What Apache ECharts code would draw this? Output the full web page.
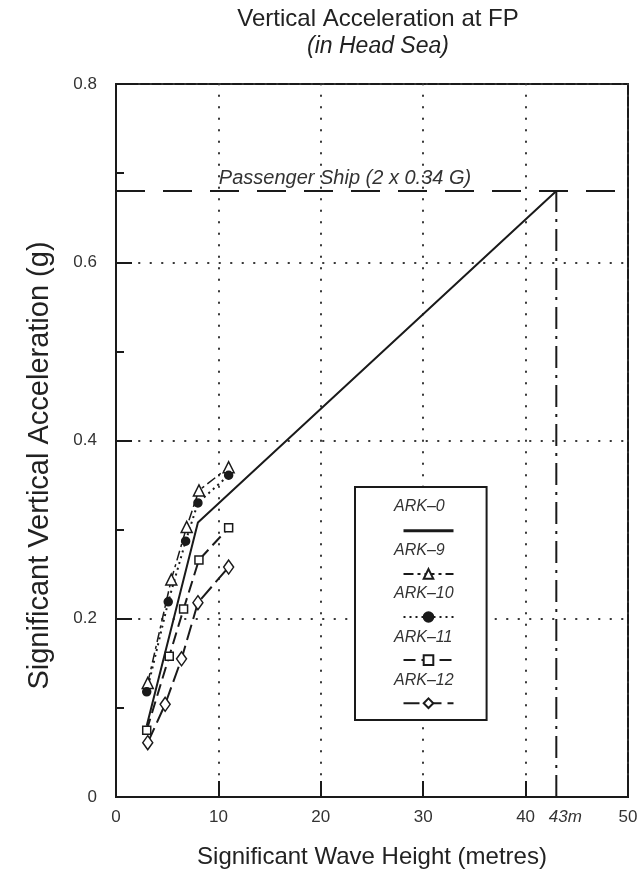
<!DOCTYPE html>
<html><head><meta charset="utf-8">
<script src="https://cdn.jsdelivr.net/npm/echarts@6/dist/echarts.min.js"></script>
<style>html,body{margin:0;padding:0;background:#fff}#c{width:644px;height:888px}</style>
</head><body><div id="c"></div>
<script>
// ---- data ----
const xTickLabels = [0, 10, 20, 30, 40, 43, 50];
const yTickLabels = [0, 0.2, 0.4, 0.6, 0.8];
const seriesNames = ['ARK–0', 'ARK–9', 'ARK–10', 'ARK–11', 'ARK–12'];
const ark0 = [[3.0, 0.08], [8.0, 0.308], [43, 0.68]];
const ark9 = [[3.1, 0.128], [5.4, 0.244], [6.9, 0.303], [8.1, 0.344], [11.0, 0.370]];
const ark10 = [[3.0, 0.118], [5.1, 0.219], [6.8, 0.287], [8.0, 0.330], [11.0, 0.361]];
const ark11 = [[3.0, 0.075], [5.2, 0.158], [6.6, 0.211], [8.1, 0.266], [11.0, 0.302]];
const ark12 = [[3.1, 0.061], [4.8, 0.104], [6.4, 0.155], [8.0, 0.218], [11.0, 0.258]];
const passengerLimit = 0.68;
const limitWaveHeight = 43;
const limitLine = [[limitWaveHeight, 0], [limitWaveHeight, passengerLimit]];
const passengerLabel = 'Passenger Ship (2 x 0.34 G)';
const titleText = 'Vertical Acceleration at FP';
const subtitleText = '(in Head Sea)';
const xName = 'Significant Wave Height (metres)';
const yName = 'Significant Vertical Acceleration (g)';

// ---- chart ----
const INK = '#1a1a1a';
const FONT = '"Liberation Sans", Arial, Helvetica, sans-serif';
const chart = echarts.init(document.getElementById('c'), null, {renderer: 'canvas'});

function lineSeries(name, data, lineType, width, symbol, symbolSize, filled) {
  return {
    name, type: 'line', data, z: 3,
    symbol, symbolSize, showSymbol: symbol !== 'none',
    lineStyle: {color: INK, width, type: lineType},
    itemStyle: {color: filled ? INK : '#fff', borderColor: INK, borderWidth: 1.5},
    emphasis: {disabled: true}, animation: false
  };
}

const iconLegendData = seriesNames.map((n, i) => i === 0
  ? {name: n, itemStyle: {opacity: 0}, lineStyle: {width: 3}}
  : {name: n});

const option = {
  animation: false,
  backgroundColor: '#fff',
  textStyle: {fontFamily: FONT},
  title: {
    text: titleText, subtext: subtitleText,
    left: 373, top: 2, textAlign: 'center', itemGap: 4,
    textStyle: {fontFamily: FONT, fontSize: 24, fontWeight: 'normal', color: '#222'},
    subtextStyle: {fontFamily: FONT, fontSize: 23, fontStyle: 'italic', color: '#222'}
  },
  grid: {left: 116, right: 16, top: 84, bottom: 91, show: true, borderColor: INK, borderWidth: 2, backgroundColor: 'transparent'},
  xAxis: {
    type: 'value', min: 0, max: 50, interval: 10,
    name: xName, nameLocation: 'middle', nameGap: 48,
    nameTextStyle: {fontFamily: FONT, fontSize: 24, color: '#222'},
    axisLine: {show: true, lineStyle: {color: INK, width: 2}},
    axisTick: {show: true, inside: true, length: 16, lineStyle: {color: INK, width: 2}},
    axisLabel: {
      customValues: xTickLabels, margin: 12, fontSize: 17, color: '#333', fontFamily: FONT,
      formatter: v => v === limitWaveHeight ? '{i|' + v + 'm}' : String(v),
      rich: {i: {fontStyle: 'italic', fontSize: 17, color: '#333', fontFamily: FONT, padding: [0, 0, 0, 18]}}
    },
    splitLine: {show: true, lineStyle: {color: '#333', width: 2, type: [0.5, 11], cap: 'round'}}
  },
  yAxis: {
    type: 'value', min: 0, max: 0.8, interval: 0.2,
    name: yName, nameLocation: 'middle', nameGap: 62,
    nameTextStyle: {fontFamily: FONT, fontSize: 29, color: '#222', padding: [0, 50, 0, 0]},
    axisLine: {show: true, lineStyle: {color: INK, width: 2}},
    axisTick: {show: true, inside: true, length: 16, lineStyle: {color: INK, width: 2}},
    minorTick: {show: true, splitNumber: 2, length: 8, lineStyle: {color: INK, width: 2}},
    axisLabel: {margin: 19, fontSize: 17, color: '#333', fontFamily: FONT,
      formatter: v => v === 0 ? '0' : v.toFixed(1)},
    splitLine: {show: true, lineStyle: {color: '#333', width: 2, type: [0.5, 11], cap: 'round'}}
  },
  legend: [
    {
      data: seriesNames, orient: 'vertical', left: 355, top: 487,
      icon: 'none', itemWidth: 0, itemHeight: 18, itemGap: 25.5,
      padding: [11, 33, 30, 34], borderColor: INK, borderWidth: 2, backgroundColor: '#fff',
      selectedMode: false, z: 5,
      textStyle: {fontFamily: FONT, fontSize: 16, fontStyle: 'italic', color: '#333', lineHeight: 18}
    },
    {
      data: iconLegendData, orient: 'vertical', left: 397, top: 520,
      itemWidth: 50, itemHeight: 12, itemGap: 31.5, selectedMode: false, z: 6,
      formatter: () => '',
      textStyle: {fontSize: 10, lineHeight: 12}
    }
  ],
  series: [
    lineSeries(seriesNames[0], ark0, 'solid', 2, 'none', 0, true),
    lineSeries(seriesNames[1], ark9, [10, 4, 3, 4], 1.5, 'triangle', 11, false),
    lineSeries(seriesNames[2], ark10, [2, 4], 2, 'circle', 8, true),
    lineSeries(seriesNames[3], ark11, [12, 6], 2, 'rect', 8, false),
    lineSeries(seriesNames[4], ark12, [16, 6], 2, 'diamond', [10, 14], false),
    {
      name: 'limit', type: 'line', data: limitLine, symbol: 'none', z: 2,
      lineStyle: {color: INK, width: 2, type: [22, 7, 3, 7]},
      emphasis: {disabled: true}, animation: false,
      markLine: {
        silent: true, symbol: 'none', animation: false,
        lineStyle: {color: INK, width: 2, type: [29, 18]},
        label: {show: true, position: 'insideMiddleTop', formatter: passengerLabel, offset: [-27, 0],
          fontFamily: FONT, fontStyle: 'italic', fontSize: 20, color: '#333', distance: 3},
        data: [{yAxis: passengerLimit}]
      }
    }
  ]
};
chart.setOption(option);
</script>
</body></html>
